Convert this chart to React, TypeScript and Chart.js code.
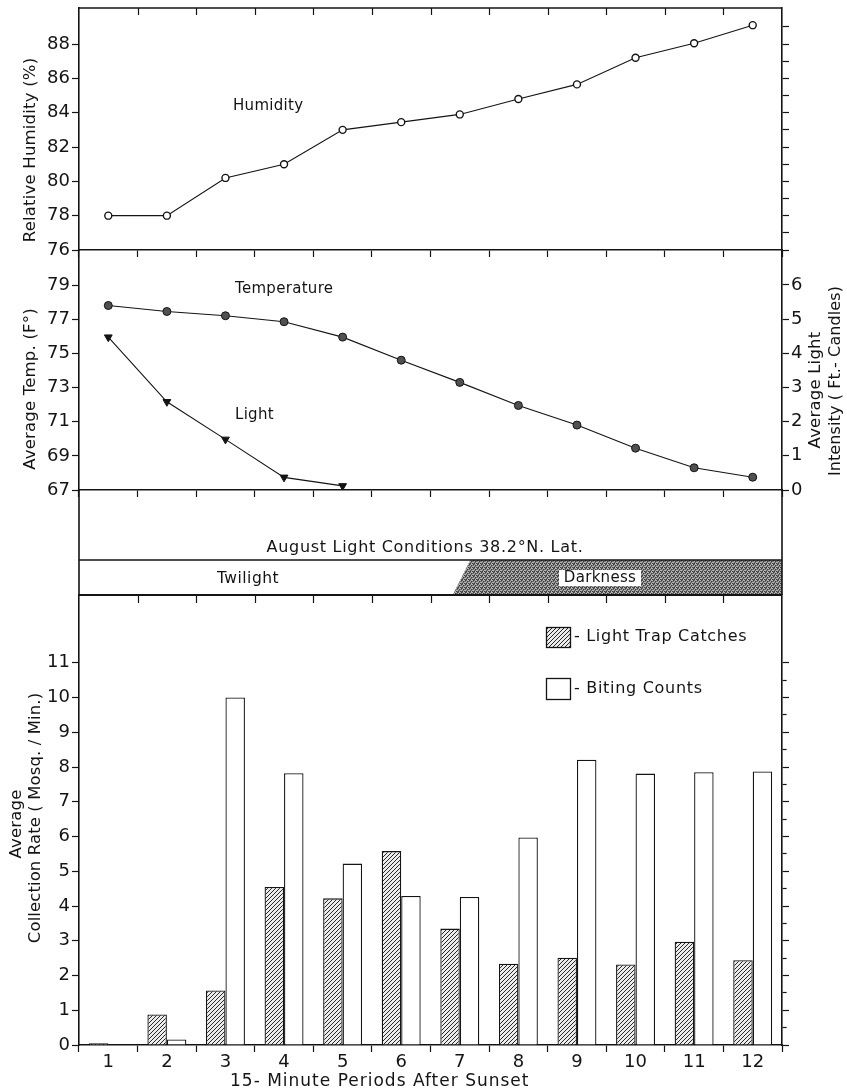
import React, { useEffect, useRef } from 'react';
import { Chart, registerables } from 'chart.js';

Chart.register(...registerables);

// ---------- data ----------
const periods = ['1', '2', '3', '4', '5', '6', '7', '8', '9', '10', '11', '12'];
const humidity = [78.0, 78.0, 80.2, 81.0, 83.0, 83.45, 83.9, 84.8, 85.65, 87.2, 88.05, 89.1];
const temperature = [77.8, 77.45, 77.2, 76.85, 75.95, 74.6, 73.3, 71.95, 70.8, 69.45, 68.3, 67.75];
const lightIntensity = [4.47, 2.58, 1.48, 0.37, 0.12, null, null, null, null, null, null, null];
const lightTrapCatches = [0.05, 0.88, 1.57, 4.55, 4.22, 5.58, 3.35, 2.34, 2.51, 2.32, 2.97, 2.44];
const bitingCounts = [0, 0.16, 10.0, 7.82, 5.22, 4.29, 4.26, 5.97, 8.21, 7.81, 7.85, 7.87];

// darkness onset (in periods after sunset) at top / bottom of the light-conditions band
const darknessOnsetTop = 6.68;
const darknessOnsetBottom = 6.38;

// ---------- ticks ----------
const humidityTicks = [76, 77, 78, 79, 80, 81, 82, 83, 84, 85, 86, 87, 88, 89];
const humidityLabels = [76, 78, 80, 82, 84, 86, 88];
const tempTicks = [67, 68, 69, 70, 71, 72, 73, 74, 75, 76, 77, 78, 79, 80];
const tempLabels = [67, 69, 71, 73, 75, 77, 79];
const lightTicks = [0, 0.5, 1, 1.5, 2, 2.5, 3, 3.5, 4, 4.5, 5, 5.5, 6];
const lightLabels = [0, 1, 2, 3, 4, 5, 6];
const rateTicks = [0, 0.5, 1, 1.5, 2, 2.5, 3, 3.5, 4, 4.5, 5, 5.5, 6, 6.5, 7, 7.5, 8, 8.5, 9, 9.5, 10, 10.5, 11];
const rateLabels = [0, 1, 2, 3, 4, 5, 6, 7, 8, 9, 10, 11];

// ---------- layout ----------
const W = 847;
const H = 1092;
const LEFT_W = 79;
const RIGHT_W = 65;
const A_TOP = 8;
const A_BOTTOM = 250;
const B_TOP = 250;
const B_BOTTOM = 490;
const BAND_TOP = 560;
const C_TOP = 595;
const INK = '#141414';
const FONT = 'DejaVu Sans';
const TICK_SIZE = 18;

function makeHatch(): CanvasPattern | string {
  const c = document.createElement('canvas');
  c.width = 4;
  c.height = 4;
  const g = c.getContext('2d');
  if (!g) return '#999';
  g.fillStyle = '#ececec';
  g.fillRect(0, 0, 4, 4);
  g.strokeStyle = '#262626';
  g.lineWidth = 1;
  g.beginPath();
  g.moveTo(0, 4); g.lineTo(4, 0);
  g.moveTo(-1, 1); g.lineTo(1, -1);
  g.moveTo(3, 5); g.lineTo(5, 3);
  g.stroke();
  return g.createPattern(c, 'repeat') || '#999';
}

function makeStipple(): CanvasPattern | string {
  const c = document.createElement('canvas');
  c.width = 4;
  c.height = 4;
  const g = c.getContext('2d');
  if (!g) return '#777';
  g.fillStyle = '#6c6c6c';
  g.fillRect(0, 0, 4, 4);
  g.fillStyle = '#b4b4b4';
  [[0, 0], [2, 1], [1, 2], [3, 3], [3, 0], [0, 2]].forEach(([x, y]) => g.fillRect(x, y, 1, 1));
  g.fillStyle = '#3a3a3a';
  [[1, 0], [0, 3], [2, 3], [3, 1]].forEach(([x, y]) => g.fillRect(x, y, 1, 1));
  return g.createPattern(c, 'repeat') || '#777';
}

function drawText(
  ctx: CanvasRenderingContext2D,
  str: string,
  x: number,
  y: number,
  size: number,
  align: CanvasTextAlign = 'left',
  rotate = 0,
  spacing = 0
) {
  ctx.save();
  ctx.fillStyle = INK;
  ctx.font = `${size}px "${FONT}"`;
  (ctx as any).letterSpacing = `${spacing}px`;
  ctx.textAlign = align;
  ctx.textBaseline = 'middle';
  ctx.translate(x, y);
  if (rotate) ctx.rotate(rotate);
  ctx.fillText(str, 0, 0);
  ctx.restore();
}

function xAxis(showLabels: boolean, height: number) {
  return {
    type: 'category',
    offset: true,
    grid: {
      offset: true,
      drawOnChartArea: false,
      drawTicks: true,
      tickLength: 7,
      tickWidth: 1.2,
      tickColor: INK,
    },
    border: { display: true, color: INK, width: 1.6 },
    ticks: {
      display: showLabels,
      color: INK,
      font: { family: FONT, size: TICK_SIZE, lineHeight: 1 },
      padding: 1,
      maxRotation: 0,
      autoSkip: false,
    },
    afterFit: (s: any) => {
      s.height = height;
      s.paddingLeft = 0;
      s.paddingRight = 0;
    },
  };
}

function yAxis(
  position: 'left' | 'right',
  min: number,
  max: number,
  ticks: number[],
  labels: number[],
  showLabels: boolean
) {
  return {
    type: 'linear',
    position,
    min,
    max,
    afterBuildTicks: (s: any) => {
      s.ticks = ticks.map((value) => ({ value }));
    },
    afterFit: (s: any) => {
      s.width = position === 'left' ? LEFT_W : RIGHT_W;
      s.paddingTop = 0;
      s.paddingBottom = 0;
    },
    grid: {
      drawOnChartArea: false,
      drawTicks: true,
      tickLength: 7,
      tickWidth: 1.2,
      tickColor: INK,
      tickBorderDash: (c: any) => {
        const v = c.tick ? c.tick.value : 0;
        if (labels.includes(v)) return [];
        return position === 'left' ? [0, 3, 4, 100] : [4, 100];
      },
    },
    border: { display: true, color: INK, width: 1.6 },
    ticks: {
      display: showLabels,
      color: INK,
      font: { family: FONT, size: TICK_SIZE, lineHeight: 1 },
      padding: 2,
      callback: (v: any) => (labels.includes(v) ? String(v) : ''),
    },
  };
}

const commonOptions = {
  responsive: false,
  animation: false,
  devicePixelRatio: 1,
  events: [],
};

const noPlugins = {
  legend: { display: false },
  tooltip: { enabled: false },
  title: { display: false },
};

export default function App() {
  const refA = useRef<HTMLCanvasElement>(null);
  const refB = useRef<HTMLCanvasElement>(null);
  const refC = useRef<HTMLCanvasElement>(null);

  useEffect(() => {
    if (!refA.current || !refB.current || !refC.current) return;
    const hatch = makeHatch();
    const stipple = makeStipple();

    const innerTopTicks = (chart: any, y: number) => {
      const ctx = chart.ctx;
      const xs = chart.scales.x;
      ctx.save();
      ctx.strokeStyle = INK;
      ctx.lineWidth = 1.2;
      ctx.beginPath();
      for (let i = 1; i < periods.length; i++) {
        const x = Math.round(xs.getPixelForValue(i - 0.5)) + 0.5;
        ctx.moveTo(x, y);
        ctx.lineTo(x, y + 7);
      }
      ctx.stroke();
      ctx.restore();
    };

    const chartA = new Chart(refA.current, {
      type: 'line',
      data: {
        labels: periods,
        datasets: [
          {
            data: humidity,
            yAxisID: 'y',
            borderColor: INK,
            borderWidth: 1.1,
            tension: 0,
            pointRadius: 3.5,
            pointBackgroundColor: '#ffffff',
            pointBorderColor: INK,
            pointBorderWidth: 1.4,
          },
        ],
      },
      options: {
        ...commonOptions,
        layout: { padding: { top: A_TOP, bottom: H - A_BOTTOM - 10, left: 0, right: 0 } },
        plugins: noPlugins,
        scales: {
          x: xAxis(false, 10),
          y: yAxis('left', 76, 90.1, humidityTicks, humidityLabels, true),
          y2: yAxis('right', 76, 90.1, humidityTicks, humidityTicks, false),
        },
      } as any,
      plugins: [
        {
          id: 'panelA',
          afterDraw: (chart: any) => {
            const ctx = chart.ctx;
            const a = chart.chartArea;
            ctx.save();
            ctx.strokeStyle = INK;
            ctx.lineWidth = 1.6;
            ctx.beginPath();
            ctx.moveTo(a.left, a.top);
            ctx.lineTo(a.right, a.top);
            ctx.stroke();
            ctx.restore();
            innerTopTicks(chart, a.top);
            drawText(ctx, 'Relative Humidity (%)', 31, 150, 16.5, 'center', -Math.PI / 2, 0.2);
            drawText(ctx, 'Humidity', 233, 106, 15, 'left', 0, 0.3);
          },
        },
      ],
    });

    const chartB = new Chart(refB.current, {
      type: 'line',
      data: {
        labels: periods,
        datasets: [
          {
            data: temperature,
            yAxisID: 'y',
            borderColor: INK,
            borderWidth: 1.1,
            tension: 0,
            pointRadius: 4,
            pointBackgroundColor: '#505050',
            pointBorderColor: INK,
            pointBorderWidth: 1,
          },
          {
            data: lightIntensity,
            yAxisID: 'y1',
            borderColor: INK,
            borderWidth: 1.1,
            tension: 0,
            pointStyle: 'triangle',
            rotation: 180,
            pointRadius: 4.5,
            pointBackgroundColor: INK,
            pointBorderColor: INK,
            pointBorderWidth: 1,
          },
        ],
      },
      options: {
        ...commonOptions,
        layout: { padding: { top: B_TOP, bottom: H - B_BOTTOM - 10, left: 0, right: 0 } },
        plugins: noPlugins,
        scales: {
          x: xAxis(false, 10),
          y: yAxis('left', 67, 81.05, tempTicks, tempLabels, true),
          y1: yAxis('right', 0, 7.02, lightTicks, lightLabels, true),
        },
      } as any,
      plugins: [
        {
          id: 'panelB',
          afterDraw: (chart: any) => {
            const ctx = chart.ctx;
            const a = chart.chartArea;
            const xs = chart.scales.x;
            drawText(ctx, 'Temperature', 235, 289, 15, 'left', 0, 0.3);
            drawText(ctx, 'Light', 235, 415, 15, 'left', 0, 0.3);
            drawText(ctx, 'Average Temp. (F°)', 31, 389, 16.5, 'center', -Math.PI / 2, 0.2);
            drawText(ctx, 'Average Light', 816, 390, 16.5, 'center', -Math.PI / 2, 0.2);
            drawText(ctx, 'Intensity ( Ft.- Candles)', 836, 381, 16, 'center', -Math.PI / 2, 0.1);

            // light-condition band
            const xTop = xs.getPixelForValue(darknessOnsetTop - 0.5);
            const xBot = xs.getPixelForValue(darknessOnsetBottom - 0.5);
            ctx.save();
            ctx.fillStyle = stipple as any;
            ctx.beginPath();
            ctx.moveTo(xTop, BAND_TOP);
            ctx.lineTo(a.right, BAND_TOP);
            ctx.lineTo(a.right, C_TOP);
            ctx.lineTo(xBot, C_TOP);
            ctx.closePath();
            ctx.fill();
            ctx.strokeStyle = INK;
            ctx.lineWidth = 1.6;
            ctx.beginPath();
            ctx.moveTo(a.left, a.bottom);
            ctx.lineTo(a.left, C_TOP);
            ctx.moveTo(a.right, a.bottom);
            ctx.lineTo(a.right, C_TOP);
            ctx.moveTo(a.left, BAND_TOP);
            ctx.lineTo(a.right, BAND_TOP);
            ctx.stroke();
            ctx.restore();

            drawText(ctx, 'August Light Conditions 38.2°N. Lat.', 425, 548, 16, 'center', 0, 0.7);
            drawText(ctx, 'Twilight', 248, 579, 15.5, 'center', 0, 0.5);
            ctx.save();
            ctx.fillStyle = '#ffffff';
            ctx.fillRect(559, 570, 82, 16);
            ctx.restore();
            drawText(ctx, 'Darkness', 600, 578, 15, 'center', 0, 0.3);
          },
        },
      ],
    });

    const chartC = new Chart(refC.current, {
      type: 'bar',
      data: {
        labels: periods,
        datasets: [
          {
            label: 'Light Trap Catches',
            data: lightTrapCatches,
            backgroundColor: hatch as any,
            borderColor: INK,
            borderWidth: 1.3,
            categoryPercentage: 0.665,
            barPercentage: 1,
          },
          {
            label: 'Biting Counts',
            data: bitingCounts,
            backgroundColor: '#ffffff',
            borderColor: INK,
            borderWidth: 1.3,
            categoryPercentage: 0.665,
            barPercentage: 1,
          },
        ],
      },
      options: {
        ...commonOptions,
        layout: { padding: { top: C_TOP, bottom: 0, left: 0, right: 0 } },
        plugins: noPlugins,
        scales: {
          x: xAxis(true, 47),
          y: yAxis('left', 0, 12.95, rateTicks, rateLabels, true),
          y2: yAxis('right', 0, 12.95, rateTicks, rateLabels, false),
        },
      } as any,
      plugins: [
        {
          id: 'panelC',
          afterDraw: (chart: any) => {
            const ctx = chart.ctx;
            const a = chart.chartArea;
            ctx.save();
            ctx.strokeStyle = INK;
            ctx.lineWidth = 2.2;
            ctx.beginPath();
            ctx.moveTo(a.left, a.top);
            ctx.lineTo(a.right, a.top);
            ctx.stroke();
            ctx.restore();
            innerTopTicks(chart, a.top + 1);

            // legend
            ctx.save();
            ctx.fillStyle = hatch as any;
            ctx.fillRect(546, 627, 24, 20);
            ctx.strokeStyle = INK;
            ctx.lineWidth = 1.3;
            ctx.strokeRect(546.5, 627.5, 24, 20);
            ctx.fillStyle = '#ffffff';
            ctx.fillRect(546, 678, 24, 21);
            ctx.strokeRect(546.5, 678.5, 24, 21);
            ctx.restore();
            drawText(ctx, '- Light Trap Catches', 574, 637, 16, 'left', 0, 0.7);
            drawText(ctx, '- Biting Counts', 574, 689, 16, 'left', 0, 0.7);

            drawText(ctx, 'Average', 17, 824, 16.5, 'center', -Math.PI / 2, 0.2);
            drawText(ctx, 'Collection Rate ( Mosq. / Min.)', 36, 818, 16.5, 'center', -Math.PI / 2, 0.1);
            drawText(ctx, '15- Minute Periods After Sunset', 230, 1082, 17, 'left', 0, 1);
          },
        },
      ],
    });

    return () => {
      chartA.destroy();
      chartB.destroy();
      chartC.destroy();
    };
  }, []);

  const cv: React.CSSProperties = { position: 'absolute', left: 0, top: 0, width: W, height: H };
  return (
    <div style={{ position: 'absolute', left: 0, top: 0, width: W, height: H, background: '#ffffff' }}>
      <canvas ref={refA} width={W} height={H} style={cv} />
      <canvas ref={refB} width={W} height={H} style={cv} />
      <canvas ref={refC} width={W} height={H} style={cv} />
    </div>
  );
}
